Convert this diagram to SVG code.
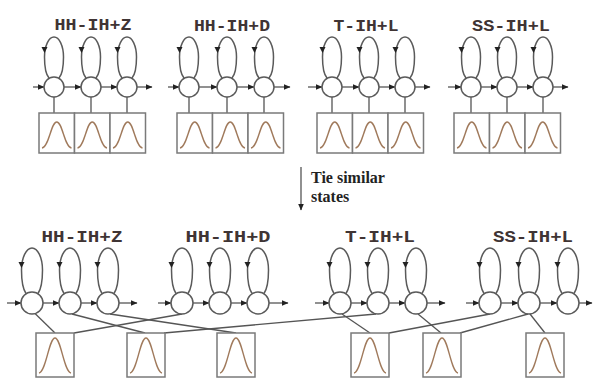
<svg xmlns="http://www.w3.org/2000/svg" xmlns:xlink="http://www.w3.org/1999/xlink" width="594" height="379" viewBox="0 0 594 379">
<style>
.st{fill:#fff;stroke:#5a5a5a;stroke-width:1.5}
.lp{fill:none;stroke:#5a5a5a;stroke-width:1.5}
.ah{fill:#222}
.bx{fill:#fff;stroke:#7a7a7a;stroke-width:1.5}
.gs{fill:none;stroke:#a07a5c;stroke-width:1.4}
.ln{fill:none;stroke:#555;stroke-width:1.3}
.ar{fill:none;stroke:#555;stroke-width:1.3;marker-end:url(#arr)}
.ttl{font-family:"Liberation Mono",monospace;font-weight:bold;font-size:17px;fill:#3f3434;text-anchor:middle}
.tie{font-family:"Liberation Serif",serif;font-weight:bold;font-size:16px;fill:#222}
</style>
<defs>
<marker id="arr" markerUnits="userSpaceOnUse" markerWidth="7" markerHeight="7" refX="6.5" refY="3.5" orient="auto"><path d="M0,0.5 L7,3.5 L0,6.5 z" fill="#222"/></marker>
<g id="loopT"><path class="lp" d="M-5,-9 Q-9.5,-14 -9.5,-30 A9.5,20 0 0 1 9.5,-30 Q9.5,-14 5,-9"/><path class="ah" d="M-12.5,-40 L-6.5,-40 L-9.5,-34 z"/></g>
<g id="loopB"><path class="lp" d="M-6,-9.5 Q-10.5,-16 -10.5,-33 A10.5,22 0 0 1 10.5,-33 Q10.5,-16 6,-9.5"/><path class="ah" d="M-13.5,-41 L-7.5,-41 L-10.5,-35 z"/></g>
<path id="gT" class="gs" d="M3,35 C10,34 12,9 17.75,9 C23.5,9 25.5,34 32.5,35"/>
<path id="gB" class="gs" d="M3,40 C10,39 13,5 19,5 C25,5 28,39 35,40"/>
</defs>
<rect width="594" height="379" fill="#fff"/>

<g id="titles">
<text class="ttl" x="93" y="30" textLength="77" lengthAdjust="spacingAndGlyphs">HH-IH+Z</text>
<text class="ttl" x="232" y="31" textLength="76" lengthAdjust="spacingAndGlyphs">HH-IH+D</text>
<text class="ttl" x="366" y="31" textLength="65" lengthAdjust="spacingAndGlyphs">T-IH+L</text>
<text class="ttl" x="511" y="31" textLength="78" lengthAdjust="spacingAndGlyphs">SS-IH+L</text>
<text class="ttl" x="82" y="242" textLength="81" lengthAdjust="spacingAndGlyphs">HH-IH+Z</text>
<text class="ttl" x="228" y="242" textLength="85" lengthAdjust="spacingAndGlyphs">HH-IH+D</text>
<text class="ttl" x="380" y="242" textLength="70" lengthAdjust="spacingAndGlyphs">T-IH+L</text>
<text class="ttl" x="533" y="242" textLength="80" lengthAdjust="spacingAndGlyphs">SS-IH+L</text>
</g>

<g id="connectors">
<path class="ln" d="M54,97V113 M91,97V113 M127,97V113 M189,97V113 M227,97V113 M264,97V113 M332,97V113 M369,97V113 M405,97V113 M471,97V113 M507,97V113 M543,97V113"/>
<path class="ar" d="M33,87H44"/><path class="ar" d="M64,87H81"/><path class="ar" d="M101,87H117"/><path class="ar" d="M137,87H152"/>
<path class="ar" d="M168,87H179"/><path class="ar" d="M199,87H217"/><path class="ar" d="M237,87H254"/><path class="ar" d="M274,87H290"/>
<path class="ar" d="M308,87H322"/><path class="ar" d="M342,87H359"/><path class="ar" d="M379,87H395"/><path class="ar" d="M415,87H430"/>
<path class="ar" d="M448,87H461"/><path class="ar" d="M481,87H497"/><path class="ar" d="M517,87H533"/><path class="ar" d="M553,87H568"/>
<path class="ar" d="M7,303H21"/><path class="ar" d="M43,303H59"/><path class="ar" d="M81,303H97"/><path class="ar" d="M119,303H137"/>
<path class="ar" d="M158,303H171"/><path class="ar" d="M193,303H209"/><path class="ar" d="M231,303H247"/><path class="ar" d="M269,303H288"/>
<path class="ar" d="M315,303H329"/><path class="ar" d="M351,303H367"/><path class="ar" d="M389,303H405"/><path class="ar" d="M427,303H445"/>
<path class="ar" d="M466,303H479"/><path class="ar" d="M501,303H518"/><path class="ar" d="M540,303H557"/><path class="ar" d="M579,303H592"/>
<path class="ln" d="M35,313.5L55,333"/>
<path class="ln" d="M182,314L74,333"/>
<path class="ln" d="M72,314L145,333"/>
<path class="ln" d="M110,314L236,333"/>
<path class="ln" d="M376,314L164,333"/>
<path class="ln" d="M342,314L370,333"/>
<path class="ln" d="M490,314L389,333"/>
<path class="ln" d="M418,314L441,333"/>
<path class="ln" d="M528,314L460,333"/>
<path class="ln" d="M530,314L545,333"/>
<path class="ar" d="M301,167V210"/>
</g>

<g id="tie-label">
<text class="tie" x="311" y="183">Tie similar</text>
<text class="tie" x="311" y="202">states</text>
</g>

<g id="t-hhz-s1"><use href="#loopT" x="54" y="87"/><circle class="st" cx="54" cy="87" r="10"/></g>
<g id="t-hhz-s2"><use href="#loopT" x="91" y="87"/><circle class="st" cx="91" cy="87" r="10"/></g>
<g id="t-hhz-s3"><use href="#loopT" x="127" y="87"/><circle class="st" cx="127" cy="87" r="10"/></g>
<g id="t-hhd-s1"><use href="#loopT" x="189" y="87"/><circle class="st" cx="189" cy="87" r="10"/></g>
<g id="t-hhd-s2"><use href="#loopT" x="227" y="87"/><circle class="st" cx="227" cy="87" r="10"/></g>
<g id="t-hhd-s3"><use href="#loopT" x="264" y="87"/><circle class="st" cx="264" cy="87" r="10"/></g>
<g id="t-tl-s1"><use href="#loopT" x="332" y="87"/><circle class="st" cx="332" cy="87" r="10"/></g>
<g id="t-tl-s2"><use href="#loopT" x="369" y="87"/><circle class="st" cx="369" cy="87" r="10"/></g>
<g id="t-tl-s3"><use href="#loopT" x="405" y="87"/><circle class="st" cx="405" cy="87" r="10"/></g>
<g id="t-ssl-s1"><use href="#loopT" x="471" y="87"/><circle class="st" cx="471" cy="87" r="10"/></g>
<g id="t-ssl-s2"><use href="#loopT" x="507" y="87"/><circle class="st" cx="507" cy="87" r="10"/></g>
<g id="t-ssl-s3"><use href="#loopT" x="543" y="87"/><circle class="st" cx="543" cy="87" r="10"/></g>

<g id="t-hhz-b1"><rect class="bx" x="39" y="113" width="35.5" height="40"/><use href="#gT" x="39" y="113"/></g>
<g id="t-hhz-b2"><rect class="bx" x="74.5" y="113" width="35.5" height="40"/><use href="#gT" x="74.5" y="113"/></g>
<g id="t-hhz-b3"><rect class="bx" x="110" y="113" width="35.5" height="40"/><use href="#gT" x="110" y="113"/></g>
<g id="t-hhd-b1"><rect class="bx" x="177" y="113" width="35.5" height="40"/><use href="#gT" x="177" y="113"/></g>
<g id="t-hhd-b2"><rect class="bx" x="212.5" y="113" width="35.5" height="40"/><use href="#gT" x="212.5" y="113"/></g>
<g id="t-hhd-b3"><rect class="bx" x="248" y="113" width="35.5" height="40"/><use href="#gT" x="248" y="113"/></g>
<g id="t-tl-b1"><rect class="bx" x="317" y="113" width="35.5" height="40"/><use href="#gT" x="317" y="113"/></g>
<g id="t-tl-b2"><rect class="bx" x="352.5" y="113" width="35.5" height="40"/><use href="#gT" x="352.5" y="113"/></g>
<g id="t-tl-b3"><rect class="bx" x="388" y="113" width="35.5" height="40"/><use href="#gT" x="388" y="113"/></g>
<g id="t-ssl-b1"><rect class="bx" x="454" y="113" width="35.5" height="40"/><use href="#gT" x="454" y="113"/></g>
<g id="t-ssl-b2"><rect class="bx" x="489.5" y="113" width="35.5" height="40"/><use href="#gT" x="489.5" y="113"/></g>
<g id="t-ssl-b3"><rect class="bx" x="525" y="113" width="35.5" height="40"/><use href="#gT" x="525" y="113"/></g>

<g id="b-hhz-s1"><use href="#loopB" x="32" y="303"/><circle class="st" cx="32" cy="303" r="11"/></g>
<g id="b-hhz-s2"><use href="#loopB" x="70" y="303"/><circle class="st" cx="70" cy="303" r="11"/></g>
<g id="b-hhz-s3"><use href="#loopB" x="108" y="303"/><circle class="st" cx="108" cy="303" r="11"/></g>
<g id="b-hhd-s1"><use href="#loopB" x="182" y="303"/><circle class="st" cx="182" cy="303" r="11"/></g>
<g id="b-hhd-s2"><use href="#loopB" x="220" y="303"/><circle class="st" cx="220" cy="303" r="11"/></g>
<g id="b-hhd-s3"><use href="#loopB" x="258" y="303"/><circle class="st" cx="258" cy="303" r="11"/></g>
<g id="b-tl-s1"><use href="#loopB" x="340" y="303"/><circle class="st" cx="340" cy="303" r="11"/></g>
<g id="b-tl-s2"><use href="#loopB" x="378" y="303"/><circle class="st" cx="378" cy="303" r="11"/></g>
<g id="b-tl-s3"><use href="#loopB" x="416" y="303"/><circle class="st" cx="416" cy="303" r="11"/></g>
<g id="b-ssl-s1"><use href="#loopB" x="490" y="303"/><circle class="st" cx="490" cy="303" r="11"/></g>
<g id="b-ssl-s2"><use href="#loopB" x="529" y="303"/><circle class="st" cx="529" cy="303" r="11"/></g>
<g id="b-ssl-s3"><use href="#loopB" x="568" y="303"/><circle class="st" cx="568" cy="303" r="11"/></g>

<g id="b-box1"><rect class="bx" x="36" y="333" width="38" height="44"/><use href="#gB" x="36" y="333"/></g>
<g id="b-box2"><rect class="bx" x="127" y="333" width="38" height="44"/><use href="#gB" x="127" y="333"/></g>
<g id="b-box3"><rect class="bx" x="217" y="333" width="38" height="44"/><use href="#gB" x="217" y="333"/></g>
<g id="b-box4"><rect class="bx" x="351" y="333" width="38" height="44"/><use href="#gB" x="351" y="333"/></g>
<g id="b-box5"><rect class="bx" x="423" y="333" width="38" height="44"/><use href="#gB" x="423" y="333"/></g>
<g id="b-box6"><rect class="bx" x="526" y="333" width="38" height="44"/><use href="#gB" x="526" y="333"/></g>
</svg>
